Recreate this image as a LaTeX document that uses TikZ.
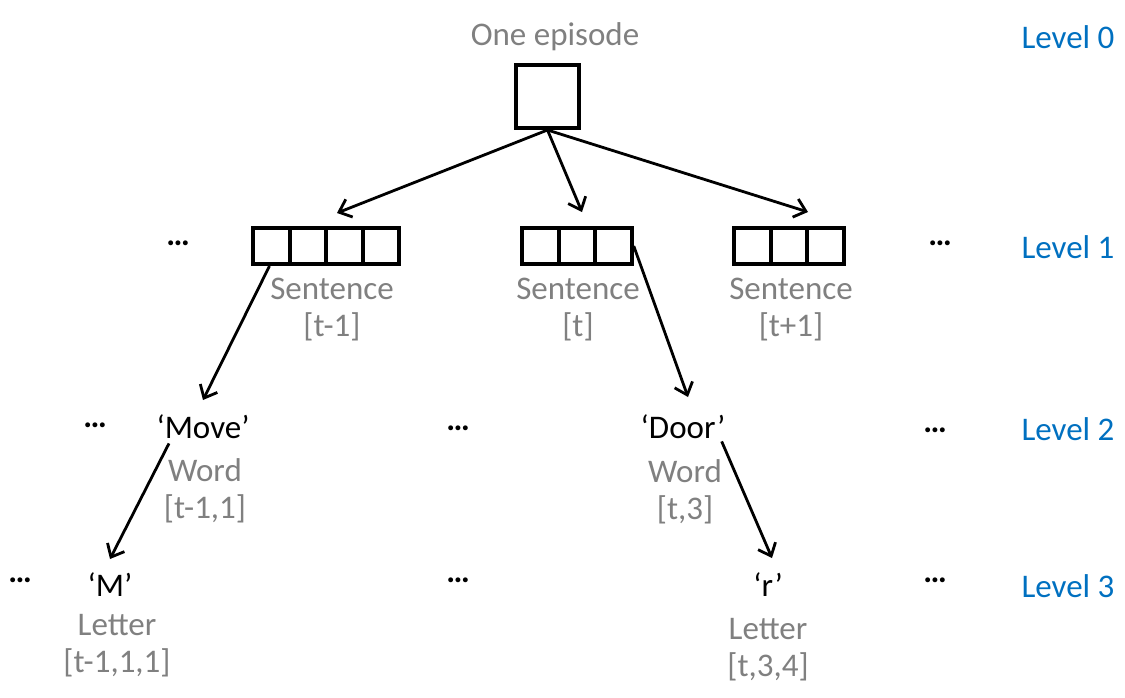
\documentclass[tikz,border=0pt]{standalone}
\usepackage{fontspec}
\setmainfont{Carlito}
\usetikzlibrary{arrows.meta}
\definecolor{lvlblue}{RGB}{0,112,192}
\definecolor{lblgray}{RGB}{128,128,128}
\begin{document}
\begin{tikzpicture}[x=0.5pt,y=-0.5pt,
  every node/.style={font=\fontsize{16.5}{18.5}\selectfont, inner sep=0pt},
  cell/.style={draw, line width=2pt, minimum width=18.25pt, minimum height=18pt},
  lbl/.style={text=lblgray, align=center},
  lvl/.style={text=lvlblue},
  link/.style={-{Straight Barb[length=5.5pt,width=9.5pt]}, line width=1.4pt}]

\useasboundingbox (0,0) rectangle (1125,697);

% Level labels (right column)
\node[lvl] (l0) at (1068,37) {Level 0};
\node[lvl] (l1) at (1068,247) {Level 1};
\node[lvl] (l2) at (1068,429) {Level 2};
\node[lvl] (l3) at (1068,586) {Level 3};

% Level 0: the episode
\node[lbl] (eptxt) at (555,37) {One episode};
\node[draw, line width=2pt, minimum size=31.5pt] (ep) at (547.5,96.5) {};

% Level 1: sentences as rows of cells
\def\cw{36.5}
\foreach \i in {0,...,3}
  \node[cell] (a\i) at (271.5+\cw*\i,246) {};
\foreach \i in {0,...,2}
  \node[cell] (b\i) at (540.5+\cw*\i,246) {};
\foreach \i in {0,...,2}
  \node[cell] (c\i) at (752.5+\cw*\i,246) {};

\node[lbl] (sa) at (332,310) {Sentence\\{}[t-1]};
\node[lbl] (sb) at (578,310) {Sentence\\{}[t]};
\node[lbl] (sc) at (791,310) {Sentence\\{}[t+1]};

\node (d1a) at (178,243) {\textbf{…}};
\node (d1b) at (940,243) {\textbf{…}};

% Level 2: words
\node (move) at (203,427) {‘Move’};
\node[lbl] (wa) at (205,491) {Word\\{}[t-1,1]};
\node (door) at (683,427) {‘Door’};
\node[lbl] (wb) at (685,492) {Word\\{}[t,3]};

\node (d2a) at (95,425) {\textbf{…}};
\node (d2b) at (458,428) {\textbf{…}};
\node (d2c) at (935,430) {\textbf{…}};

% Level 3: letters
\node (m) at (110,585) {‘M’};
\node[lbl] (la) at (117,646) {Letter\\{}[t-1,1,1]};
\node (r) at (768,585) {‘r’};
\node[lbl] (lb) at (768,650) {Letter\\{}[t,3,4]};

\node (d3a) at (20,580) {\textbf{…}};
\node (d3b) at (458,580) {\textbf{…}};
\node (d3c) at (935,580) {\textbf{…}};

% Arrow ends
\coordinate (ta) at (337,213);
\coordinate (tb) at (582,212);
\coordinate (tc) at (808,212);
\coordinate (tw1) at (203,400);
\coordinate (tw2) at (688,397);
\coordinate (tm) at (110,559);
\coordinate (tr) at (772,558);

% Connectors
\draw[link] (ep.south) -- (ta);
\draw[link] (ep.south) -- (tb);
\draw[link] (ep.south) -- (tc);
\draw[link] ([xshift=-1pt]a0.south) -- (tw1);
\draw[link] (b2.east) -- (tw2);
\draw[link] ([xshift=-17pt,yshift=-2pt]move.south) -- (tm);
\draw[link] ([xshift=-2pt,yshift=-1pt]door.south east) -- (tr);

\end{tikzpicture}
\end{document}
